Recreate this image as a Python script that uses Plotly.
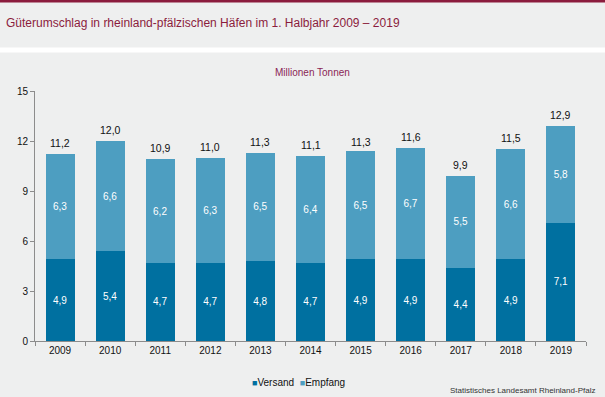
import plotly.graph_objects as go

years = ["2009", "2010", "2011", "2012", "2013", "2014", "2015", "2016", "2017", "2018", "2019"]
versand = [4.9, 5.4, 4.7, 4.7, 4.8, 4.7, 4.9, 4.9, 4.4, 4.9, 7.1]
empfang = [6.3, 6.6, 6.2, 6.3, 6.5, 6.4, 6.5, 6.7, 5.5, 6.6, 5.8]
totals = [11.2, 12.0, 10.9, 11.0, 11.3, 11.1, 11.3, 11.6, 9.9, 11.5, 12.9]
y_ticks = [0, 3, 6, 9, 12, 15]

W, H = 605, 397
L, R, T, B = 35, 19, 91, 56
BG = "#eeefef"
FONT = "Liberation Sans, Arial, sans-serif"
DARK = "#0070a0"
LIGHT = "#4d9ec1"
RED = "#8b1c3d"

fig = go.Figure()
fig.add_trace(go.Bar(
    x=years, y=versand, name="Versand", marker=dict(color=DARK, line=dict(width=0)),
    texttemplate="%{y:.1f}", textposition="inside", insidetextanchor="middle",
    textfont=dict(color="white", size=10, family=FONT), textangle=0,
))
fig.add_trace(go.Bar(
    x=years, y=empfang, name="Empfang", marker=dict(color=LIGHT, line=dict(width=0)),
    texttemplate="%{y:.1f}", textposition="inside", insidetextanchor="middle",
    textfont=dict(color="white", size=10, family=FONT), textangle=0,
))

pw = W - L - R
ph = H - T - B

def px_x(p):
    return (p - L) / pw

def px_y(p):
    return (H - B - p) / ph

legend_text = (f"<span style='color:{DARK};font-size:9px'>■</span>Versand&nbsp;&nbsp;"
               f"<span style='color:{LIGHT};font-size:9px'>■</span>Empfang")

# on a category axis, annotation x is the category's serial index
total_annotations = [
    dict(x=i, y=t, xref="x", yref="y", text=f"{t:.1f}".replace(".", ","),
         showarrow=False, yanchor="bottom", yshift=3,
         font=dict(size=10.5, family=FONT, color="#111111"))
    for i, t in enumerate(totals)
]

fig.update_layout(
    width=W, height=H,
    margin=dict(l=L, r=R, t=T, b=B),
    paper_bgcolor=BG, plot_bgcolor=BG,
    barmode="stack", bargap=0.42,
    separators=",.",
    font=dict(family=FONT, size=10, color="#111111"),
    showlegend=False,
    xaxis=dict(type="category", categoryorder="array", categoryarray=years,
               tickson="boundaries", ticks="outside", ticklen=4,
               tickcolor="#8c8c8c", showline=True, linecolor="#8c8c8c", linewidth=1,
               showgrid=False, tickfont=dict(size=10, family=FONT, color="#111111"), fixedrange=True),
    yaxis=dict(range=[0, 15], tickvals=y_ticks, ticks="outside", ticklen=4,
               tickcolor="#8c8c8c", showline=True, linecolor="#8c8c8c", linewidth=1,
               showgrid=False, zeroline=False, fixedrange=True,
               tickfont=dict(size=10, family=FONT, color="#111111")),
    shapes=[
        dict(type="rect", xref="paper", yref="paper", x0=px_x(0), x1=px_x(W), y0=px_y(0), y1=px_y(2.5),
             fillcolor=RED, line=dict(width=0), layer="below"),
        dict(type="rect", xref="paper", yref="paper", x0=px_x(0), x1=px_x(W), y0=px_y(47.5), y1=px_y(52.5),
             fillcolor="white", line=dict(width=0), layer="below"),
    ],
    annotations=total_annotations + [
        dict(text="Güterumschlag in rheinland-pfälzischen Häfen im 1. Halbjahr 2009 – 2019",
             xref="paper", yref="paper", x=px_x(4), y=px_y(23), xanchor="left", yanchor="middle",
             showarrow=False, font=dict(size=12, family=FONT, color=RED)),
        dict(text="Millionen Tonnen", xref="paper", yref="paper", x=px_x(312), y=px_y(73),
             xanchor="center", yanchor="middle", showarrow=False,
             font=dict(size=10, family=FONT, color="#8b1f55")),
        dict(text=legend_text, xref="paper", yref="paper", x=px_x(298), y=px_y(382),
             xanchor="center", yanchor="middle", showarrow=False,
             font=dict(size=10, family=FONT, color="#111111")),
        dict(text="Statistisches Landesamt Rheinland-Pfalz", xref="paper", yref="paper",
             x=px_x(597), y=px_y(390), xanchor="right", yanchor="middle", showarrow=False,
             font=dict(size=8, family=FONT, color="#333333")),
    ],
)

fig.write_html("out.html",
               config={"displayModeBar": False},
               post_script="document.documentElement.style.margin='0';"
                           "document.body.style.margin='0';document.body.style.padding='0';"
                           "document.body.style.background='#eeefef';"
                           "document.documentElement.style.background='#eeefef';"
                           "document.documentElement.style.overflow='hidden';"
                           "document.body.style.overflow='hidden';")
